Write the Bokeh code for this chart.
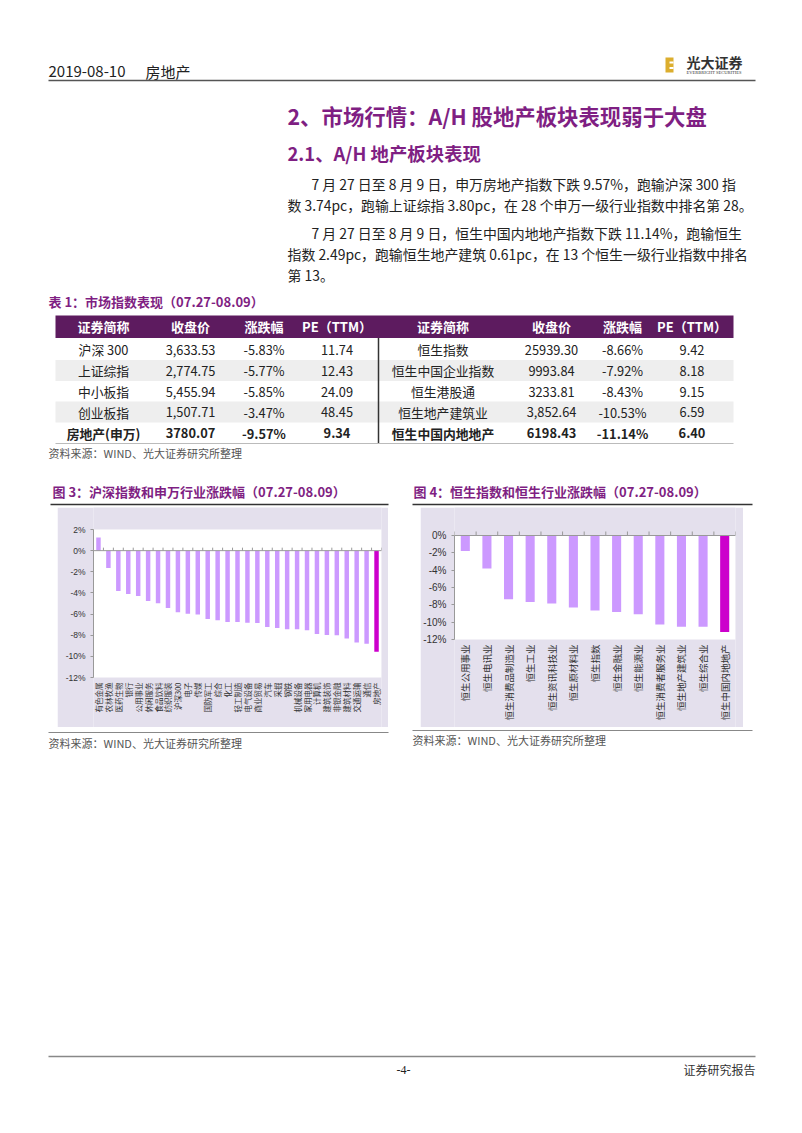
import numpy as np
from math import pi
from bokeh.plotting import figure
from bokeh.layouts import column, row
from bokeh.models import (Range1d, FixedTicker, PrintfTickFormatter, Span,
                          ColumnDataSource, Spacer)
from bokeh.core.properties import value
from bokeh.embed import file_html
from bokeh.resources import INLINE

FONT = "Noto Sans CJK SC"
PURPLE = "#7f1f83"
HEAD_BG = "#5d1b5f"
LAV = "#e4e0ed"
BAR = "#cc99ff"
HIGHLIGHT = "#cc00cc"

# ---------------- data ----------------
table_headers = ["证券简称", "收盘价", "涨跌幅", "PE（TTM）"]
a_names = ["沪深 300", "上证综指", "中小板指", "创业板指", "房地产(申万)"]
a_close = ["3,633.53", "2,774.75", "5,455.94", "1,507.71", "3780.07"]
a_chg = ["-5.83%", "-5.77%", "-5.85%", "-3.47%", "-9.57%"]
a_pe = ["11.74", "12.43", "24.09", "48.45", "9.34"]
h_names = ["恒生指数", "恒生中国企业指数", "恒生港股通", "恒生地产建筑业", "恒生中国内地地产"]
h_close = ["25939.30", "9993.84", "3233.81", "3,852.64", "6198.43"]
h_chg = ["-8.66%", "-7.92%", "-8.43%", "-10.53%", "-11.14%"]
h_pe = ["9.42", "8.18", "9.15", "6.59", "6.40"]

sw_names = ["有色金属", "农林牧渔", "医药生物", "银行", "公用事业", "休闲服务", "食品饮料",
            "纺织服装", "沪深300", "电子", "传媒", "国防军工", "综合", "化工", "轻工制造",
            "电气设备", "商业贸易", "汽车", "采掘", "钢铁", "机械设备", "家用电器", "计算机",
            "建筑装饰", "非银金融", "建筑材料", "交通运输", "通信", "房地产"]
sw_changes = [1.25, -1.64, -3.82, -4.10, -4.29, -4.76, -4.98, -5.43, -5.83, -5.96, -6.03,
              -6.47, -6.59, -6.75, -6.75, -6.81, -6.85, -7.22, -7.32, -7.44, -7.44, -7.54,
              -7.89, -7.98, -8.01, -8.30, -8.68, -8.80, -9.57]
sw_focus = "房地产"

hs_names = ["恒生公用事业", "恒生电讯业", "恒生消费品制造业", "恒生工业", "恒生资讯科技业",
            "恒生原材料业", "恒生指数", "恒生金融业", "恒生能源业", "恒生消费者服务业",
            "恒生地产建筑业", "恒生综合业", "恒生中国内地地产"]
hs_changes = [-1.79, -3.82, -7.37, -7.67, -7.86, -8.32, -8.66, -8.82, -9.08, -10.27,
              -10.53, -10.52, -11.14]
hs_focus = "恒生中国内地地产"

pct_ticks_left = [2, 0, -2, -4, -6, -8, -10, -12]
pct_ticks_right = [0, -2, -4, -6, -8, -10, -12]

para_lines = [
    "7 月 27 日至 8 月 9 日，申万房地产指数下跌 9.57%，跑输沪深 300 指",
    "数 3.74pc，跑输上证综指 3.80pc，在 28 个申万一级行业指数中排名第 28。",
    "7 月 27 日至 8 月 9 日，恒生中国内地地产指数下跌 11.14%，跑输恒生",
    "指数 2.49pc，跑输恒生地产建筑 0.61pc，在 13 个恒生一级行业指数中排名",
    "第 13。",
]
SOURCE = "资料来源：WIND、光大证券研究所整理"


# ---------------- helpers ----------------
def page_fig(top, bottom):
    p = figure(width=786, height=int(bottom - top), x_range=Range1d(0, 786),
               y_range=Range1d(bottom, top), output_backend="svg",
               toolbar_location=None, min_border=0, x_axis_location=None,
               y_axis_location=None, outline_line_color=None)
    p.grid.visible = False
    return p


def txt(p, x, y, s, size, color="#222222", bold=False, align="left", font=FONT):
    p.text(x=[x], y=[y], text=[s], text_font=value(font),
           text_font_size=value(f"{size}px"), text_color=color,
           text_font_style="bold" if bold else "normal",
           text_align=align, text_baseline="middle")


def hline(p, x0, x1, y, color="#555555", width=1.0):
    p.segment(x0=[x0], y0=[y], x1=[x1], y1=[y], line_color=color, line_width=width)


# ---------------- top page section ----------------
top = page_fig(0, 507)
txt(top, 48, 71, "2019-08-10", 15)
txt(top, 145, 71, "房地产", 15)
# logo: gold "E" block
top.quad(left=[665], right=[673], top=[57], bottom=[72], fill_color="#dcae2e", line_color=None)
top.quad(left=[669, 669], right=[673, 673], top=[61, 66.5], bottom=[63, 68.5],
         fill_color="white", line_color=None)
txt(top, 686, 61, "光大证券", 14, color="#333333", bold=True)
txt(top, 686, 72, "EVERBRIGHT SECURITIES", 4.5, color="#333333", font="Liberation Serif")
hline(top, 48, 755, 80, color="#555555", width=1.5)

txt(top, 287, 115, "2、市场行情：A/H 股地产板块表现弱于大盘", 21.4, color=PURPLE, bold=True)
txt(top, 287, 152, "2.1、A/H 地产板块表现", 18.4, color=PURPLE, bold=True)
para_x = [311, 287, 311, 287, 287]
para_y = [183, 204, 232, 253, 274]
top.text(x=para_x, y=para_y, text=para_lines, text_font=value(FONT),
         text_font_size=value("13.9px"), text_color="#222222", text_baseline="middle")

txt(top, 48, 301, "表 1：市场指数表现（07.27-08.09）", 13, color=PURPLE, bold=True)

# table
row_y = [349, 370, 391, 411.5, 432.5]
rh = 20.8
band_idx = [1, 3]
top.quad(left=[55] * len(band_idx), right=[733] * len(band_idx),
         top=[row_y[i] - rh / 2 for i in band_idx],
         bottom=[row_y[i] + rh / 2 for i in band_idx],
         fill_color="#eeeeee", line_color=None)
top.quad(left=[55], right=[733], top=[315], bottom=[337.5], fill_color=HEAD_BG, line_color=None)
col_x_left = [103, 190, 263.5, 336.5]
col_x_right = [442.5, 551, 622, 691.5]
hdr_x = col_x_left + col_x_right
top.text(x=hdr_x, y=[326] * 8, text=table_headers * 2, text_font=value(FONT),
         text_font_size=value("13px"), text_color="white", text_font_style="bold",
         text_align="center", text_baseline="middle")
cols = [a_names, a_close, a_chg, a_pe, h_names, h_close, h_chg, h_pe]
xs, ys, ts, styles = [], [], [], []
for cx, colvals in zip(hdr_x, cols):
    for i, v in enumerate(colvals):
        xs.append(cx)
        ys.append(row_y[i])
        ts.append(v)
        styles.append("bold" if i == len(colvals) - 1 else "normal")
tsrc = ColumnDataSource(dict(x=xs, y=ys, t=ts, s=styles))
top.text(x="x", y="y", text="t", text_font_style="s", source=tsrc, text_font=value(FONT),
         text_font_size=value("12.8px"), text_color="#222222", text_align="center",
         text_baseline="middle")
top.segment(x0=[378], y0=[337.5], x1=[378], y1=[443], line_color="#333333", line_width=1.5)
hline(top, 55, 733, 443, color="#bbbbbb", width=1)
txt(top, 48, 452, SOURCE, 11, color="#555555")

txt(top, 52, 491, "图 3：沪深指数和申万行业涨跌幅（07.27-08.09）", 13, color=PURPLE, bold=True)
txt(top, 413, 491, "图 4：恒生指数和恒生行业涨跌幅（07.27-08.09）", 13, color=PURPLE, bold=True)
hline(top, 50, 388, 504, color="#333333", width=1.5)
hline(top, 412, 752, 504, color="#333333", width=1.5)


# ---------------- charts ----------------
CARD_H = 220


def bar_chart(names, vals, focus, fw, lmin, rmin, ylo, yhi, yticks, plot_h, pad_top,
              bar_w, xlab_size, ylab_size, tick_px, label_gap_px):
    n = len(names)
    unit = plot_h / (yhi - ylo)                 # px per percentage point
    pad_bottom = CARD_H - plot_h - pad_top
    p = figure(frame_width=fw, frame_height=CARD_H, x_range=Range1d(-0.5, n - 0.5),
               y_range=Range1d(ylo - pad_bottom / unit, yhi + pad_top / unit),
               output_backend="svg", toolbar_location=None, title=None,
               min_border_left=lmin, min_border_right=rmin, min_border_top=0,
               min_border_bottom=0, background_fill_color=LAV, border_fill_color=LAV,
               outline_line_color=None, x_axis_location=None)
    p.grid.visible = False
    # white plot area
    p.quad(left=[-0.5], right=[n - 0.5], bottom=[ylo], top=[yhi],
           fill_color="white", line_color=None)
    src = ColumnDataSource(dict(x=list(range(n)), top=vals, name=names,
                                color=[HIGHLIGHT if nm == focus else BAR for nm in names]))
    p.vbar(x="x", top="top", bottom=0, width=bar_w, fill_color="color", line_color=None,
           source=src)
    # category labels, rotated, hanging below the plot area
    p.text(x="x", y=ylo - label_gap_px / unit, text="name", source=src, angle=pi / 2,
           text_align="right", text_baseline="middle", text_font=value(FONT),
           text_font_size=value(f"{xlab_size}px"), text_color="#333333")
    # zero line with category boundary ticks
    p.add_layout(Span(location=0, dimension="width", line_color="#999999", line_width=1))
    bounds = list(np.arange(n + 1) - 0.5)
    p.segment(x0=bounds, y0=[0] * len(bounds), x1=bounds,
              y1=[tick_px / unit] * len(bounds), line_color="#999999", line_width=1)
    ya = p.yaxis[0]
    ya.bounds = (ylo, yhi)
    ya.ticker = FixedTicker(ticks=yticks)
    ya.formatter = PrintfTickFormatter(format="%d%%")
    ya.axis_line_color = "#999999"
    ya.major_tick_line_color = "#999999"
    ya.major_tick_out = 3
    ya.major_tick_in = 0
    ya.minor_tick_line_color = None
    ya.major_label_text_font = "Liberation Sans"
    ya.major_label_text_font_size = f"{ylab_size}px"
    ya.major_label_text_color = "#333333"
    ya.major_label_standoff = 5
    return p


left = bar_chart(sw_names, sw_changes, sw_focus, 288, 36, 7, -12, 2, pct_ticks_left,
                 148, 22, 0.45, 7.5, 8.5, 3, 5)
right = bar_chart(hs_names, hs_changes, hs_focus, 281, 34, 8, -12, 0, pct_ticks_right,
                  104, 28, 0.42, 9.5, 10, 4, 5)

charts = row(Spacer(width=57, height=CARD_H), left, Spacer(width=32, height=CARD_H), right,
             Spacer(width=43, height=CARD_H))

# ---------------- bottom page section ----------------
bot = page_fig(727, 1125)
hline(bot, 48, 388, 732, color="#888888", width=1.2)
hline(bot, 412, 752, 730, color="#888888", width=1.2)
txt(bot, 48, 742, SOURCE, 11, color="#555555")
txt(bot, 412, 739, SOURCE, 11, color="#555555")
hline(bot, 48, 755, 1056, color="#888888", width=1.5)
txt(bot, 403, 1069, "-4-", 12, color="#222222", align="center", font="Liberation Serif")
txt(bot, 755, 1069, "证券研究报告", 12, color="#333333", align="right")

page = column(top, charts, bot)
open("out.html", "w").write(file_html(page, INLINE))
